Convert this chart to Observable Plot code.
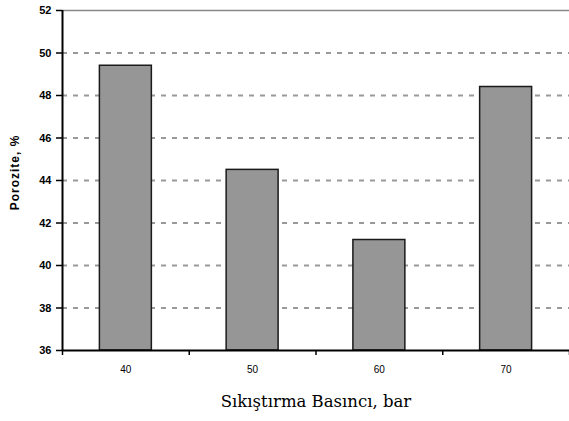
<!DOCTYPE html>
<html>
<head>
<meta charset="utf-8">
<script src="https://cdn.jsdelivr.net/npm/d3@7"></script>
<script src="https://cdn.jsdelivr.net/npm/@observablehq/plot@0.6"></script>
<style>
  body { margin: 0; background: #fff; }
  #chart { width: 569px; height: 421px; }
  .ylab text { letter-spacing: 1px; }
</style>
</head>
<body>
<div id="chart"></div>
<script>
const pressures = [40, 50, 60, 70];
const porosity = [49.4, 44.5, 41.2, 48.4];
const yTicks = [36, 38, 40, 42, 44, 46, 48, 50, 52];
const gridValues = [38, 40, 42, 44, 46, 48, 50];
const boundaryTicks = [35, 45, 55, 65, 75];
const xLabel = "Sıkıştırma Basıncı, bar";
const yLabel = "Porozite, %";

const data = pressures.map((p, i) => ({pressure: p, value: porosity[i]}));
const halfBar = 2.05;

const chart = Plot.plot({
  width: 569,
  height: 421,
  marginLeft: 62,
  marginRight: 0,
  marginTop: 10,
  marginBottom: 71,
  style: {fontFamily: "Liberation Sans, Arial, sans-serif", background: "#fff"},
  x: {domain: [35, 75], label: null},
  y: {domain: [36, 52], label: null},
  marks: [
    Plot.ruleY(gridValues, {stroke: "#999", strokeWidth: 2, strokeDasharray: "5,6"}),
    Plot.ruleY([52], {stroke: "#888", strokeWidth: 1.5}),
    Plot.rectY(data, {
      x1: d => d.pressure - halfBar,
      x2: d => d.pressure + halfBar,
      y1: 36,
      y2: "value",
      fill: "#969696",
      stroke: "#1a1a1a",
      strokeWidth: 1.5
    }),
    Plot.ruleY([36], {stroke: "#000", strokeWidth: 2}),
    Plot.ruleX([35], {stroke: "#000", strokeWidth: 2}),
    Plot.axisY({ticks: yTicks, tickSize: 6, tickPadding: 5, tickFormat: d => d, fontSize: 11, fontWeight: "bold", stroke: "#000", strokeWidth: 1.5, label: null}),
    Plot.axisX({ticks: boundaryTicks, tickSize: 5, tickFormat: () => "", stroke: "#000", strokeWidth: 1.5, label: null}),
    Plot.axisX({ticks: pressures, tickSize: 0, tickPadding: 15, tickFormat: d => d, fontSize: 10, label: null}),
    Plot.text([xLabel], {
      frameAnchor: "bottom",
      dy: 56,
      text: d => d,
      fontFamily: "DejaVu Serif, serif",
      fontSize: 16.5
    }),
    Plot.text([yLabel], {
      frameAnchor: "left",
      textAnchor: "middle",
      dx: -47,
      dy: -8,
      rotate: -90,
      text: d => d,
      fontSize: 12,
      fontWeight: "bold",
      className: "ylab"
    })
  ]
});
document.getElementById("chart").append(chart);
</script>
</body>
</html>
